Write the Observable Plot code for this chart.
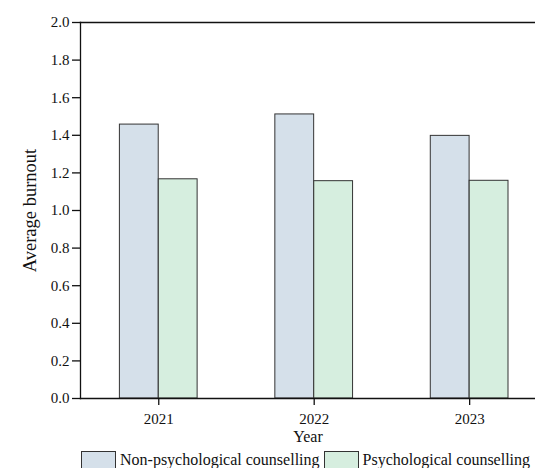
<!DOCTYPE html>
<html>
<head>
<meta charset="utf-8">
<script src="https://cdn.jsdelivr.net/npm/d3@7"></script>
<script src="https://cdn.jsdelivr.net/npm/@observablehq/plot@0.6"></script>
<style>
  html, body { margin: 0; padding: 0; background: #fff; }
  #wrap { width: 535px; height: 468px; overflow: hidden; font-family: "Liberation Serif", "Times New Roman", serif; }
  #wrap svg { display: block; }
  .legend { display: flex; align-items: flex-start; margin-left: 81px; margin-top: 2px; font-size: 16px; line-height: 16px; color: #111; white-space: nowrap; }
  .sw { width: 35px; height: 17px; border: 1px solid #333; border-bottom: none; box-sizing: border-box; margin-right: 4px; }
  .item { display: flex; align-items: flex-start; margin-right: 4px; }
  .item span { padding-top: 1px; }
</style>
</head>
<body>
<div id="wrap"></div>
<script>
const years = ["2021", "2022", "2023"];
const seriesNames = ["Non-psychological counselling", "Psychological counselling"];
const nonPsych = [1.457, 1.511, 1.397];
const psych = [1.166, 1.156, 1.158];
const yTicks = [0, 0.2, 0.4, 0.6, 0.8, 1.0, 1.2, 1.4, 1.6, 1.8, 2.0];
const colors = ["#d5e0ea", "#d6eedf"];

const rowsNon = years.map((y, i) => ({year: y, value: nonPsych[i]}));
const rowsPsy = years.map((y, i) => ({year: y, value: psych[i]}));

const half = 38.9;

const chart = Plot.plot({
  width: 535,
  height: 449,
  marginLeft: 80,
  marginRight: 0,
  marginTop: 22,
  marginBottom: 51,
  style: {fontFamily: "'Liberation Serif', 'Times New Roman', serif", fontSize: "15px", color: "#111", background: "#fff"},
  x: {type: "band", domain: years, range: [79.2, 548.2], paddingInner: 0.5, paddingOuter: 0.2586, round: false},
  y: {domain: [0, 2]},
  marks: [
    Plot.barY(rowsNon, {x: "year", y: "value", fill: colors[0], stroke: "#333", strokeWidth: 1, insetRight: half}),
    Plot.barY(rowsPsy, {x: "year", y: "value", fill: colors[1], stroke: "#333", strokeWidth: 1, insetLeft: half}),
    Plot.frame({anchor: "left", stroke: "#111", strokeWidth: 1.3}),
    Plot.frame({anchor: "top", stroke: "#111", strokeWidth: 1.3}),
    Plot.frame({anchor: "bottom", stroke: "#111", strokeWidth: 1.3}),
    Plot.axisY({ticks: yTicks, tickFormat: d3.format(".1f"), tickSize: 8, tickPadding: 3, fontSize: 15,
      label: "Average burnout", labelAnchor: "center", labelArrow: "none", labelOffset: 58, strokeWidth: 1.3}),
    Plot.axisX({tickSize: 7, tickPadding: 8, fontSize: 15, label: "Year", labelAnchor: "center", labelArrow: "none", labelOffset: 43, strokeWidth: 1.3})
  ]
});

const wrap = document.getElementById("wrap");
wrap.appendChild(chart);
chart.querySelectorAll("[aria-label='y-axis label'] text").forEach(t => t.style.fontSize = "18.5px");
chart.querySelectorAll("[aria-label='x-axis label'] text").forEach(t => t.style.fontSize = "16px");

const legend = document.createElement("div");
legend.className = "legend";
seriesNames.forEach((name, i) => {
  const item = document.createElement("div");
  item.className = "item";
  const sw = document.createElement("div");
  sw.className = "sw";
  sw.style.background = colors[i];
  const lab = document.createElement("span");
  lab.textContent = name;
  item.appendChild(sw);
  item.appendChild(lab);
  legend.appendChild(item);
});
wrap.appendChild(legend);
</script>
</body>
</html>
